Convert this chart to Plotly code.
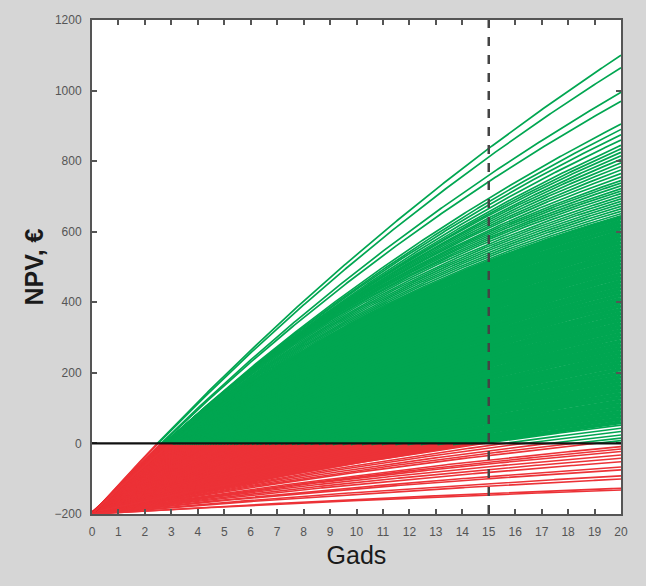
import numpy as np
import plotly.graph_objects as go

# ---------------- data ----------------
years_max = 20
investment = 200          # NPV at year 0 is -200 EUR
horizon_year = 15         # dashed vertical line
zero_level = 0            # black horizontal line

# sparse upper green lines: NPV at year 20 and at year 15
top_npv20 = [1100, 1065, 995, 970, 905, 890, 875, 860, 845, 835, 825, 815,
             805, 795, 785, 775, 765, 755, 745, 738, 730, 722, 715, 708, 700,
             693, 686, 679, 672, 665, 658, 651, 645]
top_npv15 = [836, 812, 760, 742, 695, 685, 676, 666, 657, 651, 646, 639,
             634, 628, 622, 616, 611, 604, 599, 594, 589, 583, 578, 572, 565,
             559, 553, 547, 541, 535, 529, 523, 518]

# dense band of lines
band_npv20 = [640, 630, 620, 610, 600, 590, 580, 570, 560, 550, 540, 530, 520,
              510, 500, 490, 480, 470, 460, 450, 440, 430, 420, 410, 400, 390,
              380, 370, 360, 350, 340, 330, 320, 310, 300, 290, 280, 270, 260,
              250, 240, 230, 220, 210, 200, 190, 180, 170, 160, 150, 140, 130,
              120, 110, 100, 90, 80, 70, 60]
band_npv15 = [514, 505, 496, 486, 477, 468, 459, 450, 441, 432, 423, 414, 405,
              396, 387, 378, 369, 360, 351, 342, 333, 324, 315, 306, 298, 289,
              280, 271, 262, 254, 245, 236, 228, 219, 210, 202, 193, 185, 176,
              167, 159, 150, 142, 133, 125, 116, 108, 100, 91, 83, 74, 66,
              58, 49, 41, 33, 24, 16, 8]

# lines breaking even only after year 15
late_npv20 = [52, 43, 34, 24, 15, 8]
late_npv15 = [2, -6, -13, -21, -28, -34]

# lines that never break even
neg_npv20 = [-9, -16, -23, -33, -42, -52, -67, -75, -92, -101, -127, -132]
neg_npv15 = [-47, -53, -58, -66, -74, -82, -94, -100, -114, -121, -142, -146]

GREEN = "#00a651"
RED = "#ec3237"
BG = "#d6d6d6"
FONT = "Liberation Sans, Arial, sans-serif"

# ---------------- curve construction (annuity NPV model) ----------------
t_grid = np.linspace(0, years_max, 401)


def annuity(t, r):
    if abs(r) < 1e-9:
        return t
    return (1 - (1 + r) ** (-t)) / r


def solve_rate(q):
    lo, hi = -0.2, 1.0
    for _ in range(80):
        mid = 0.5 * (lo + hi)
        if annuity(15, mid) / annuity(20, mid) < q:
            lo = mid
        else:
            hi = mid
    return 0.5 * (lo + hi)


def split_line(v20, v15):
    q = (v15 + investment) / (v20 + investment)
    r = solve_rate(q)
    A = (v20 + investment) / annuity(20, r)
    npv = lambda t: -investment + A * annuity(t, r)
    lo, hi = 0.0, float(years_max)
    if npv(hi) <= 0:
        return [(t_grid, npv(t_grid))], []
    for _ in range(60):
        mid = 0.5 * (lo + hi)
        if npv(mid) < 0:
            lo = mid
        else:
            hi = mid
    t0 = 0.5 * (lo + hi)
    tr = np.append(t_grid[t_grid < t0], t0)
    tg = np.insert(t_grid[t_grid > t0], 0, t0)
    return [(tr, npv(tr))], [(tg, npv(tg))]


def collect(v20s, v15s):
    rx, ry, gx, gy = [], [], [], []
    for a, b in zip(v20s, v15s):
        reds, greens = split_line(a, b)
        for x, y in reds:
            rx += list(x) + [None]
            ry += list(y) + [None]
        for x, y in greens:
            gx += list(x) + [None]
            gy += list(y) + [None]
    return rx, ry, gx, gy


fig = go.Figure()

groups = [
    (band_npv20, band_npv15, 4.0),
    (top_npv20, top_npv15, 1.7),
    (late_npv20, late_npv15, 1.6),
    (neg_npv20, neg_npv15, 1.6),
]
for v20, v15, w in groups:
    rx, ry, gx, gy = collect(v20, v15)
    if rx:
        fig.add_trace(go.Scatter(x=rx, y=ry, mode="lines",
                                 line=dict(color=RED, width=w),
                                 hoverinfo="skip", showlegend=False))
    if gx:
        fig.add_trace(go.Scatter(x=gx, y=gy, mode="lines",
                                 line=dict(color=GREEN, width=w),
                                 hoverinfo="skip", showlegend=False))

fig.add_hline(y=zero_level, line=dict(color="#111111", width=2.2))
fig.add_vline(x=horizon_year, line=dict(color="#444444", width=2.5, dash="dash"))

axis_common = dict(
    showgrid=False, zeroline=False,
    showline=True, linecolor="#555555", linewidth=2, mirror="ticks",
    ticks="inside", ticklen=5, tickcolor="#555555", tickwidth=1.5,
    ticklabelstandoff=6,
    tickfont=dict(family=FONT, size=12, color="#555555"),
)

fig.update_xaxes(range=[0, 20], tickmode="array", tickvals=list(range(0, 21)),
                 title=dict(text="Gads", standoff=8,
                            font=dict(family=FONT, size=25, color="#1a1a1a")),
                 **axis_common)
fig.update_yaxes(range=[-200, 1200], tickmode="array",
                 tickvals=[-200, 0, 200, 400, 600, 800, 1000, 1200],
                 title=dict(text="<b>NPV, €</b>", standoff=4,
                            font=dict(family=FONT, size=25, color="#1a1a1a")),
                 **axis_common)

fig.update_layout(
    width=646, height=586,
    margin=dict(l=92, r=25, t=20, b=72),
    paper_bgcolor=BG,
    plot_bgcolor="white",
    showlegend=False,
)

fig.write_html(
    "out.html",
    config={"displayModeBar": False},
    post_script="document.body.style.margin='0';document.body.style.background='%s';" % BG,
)
